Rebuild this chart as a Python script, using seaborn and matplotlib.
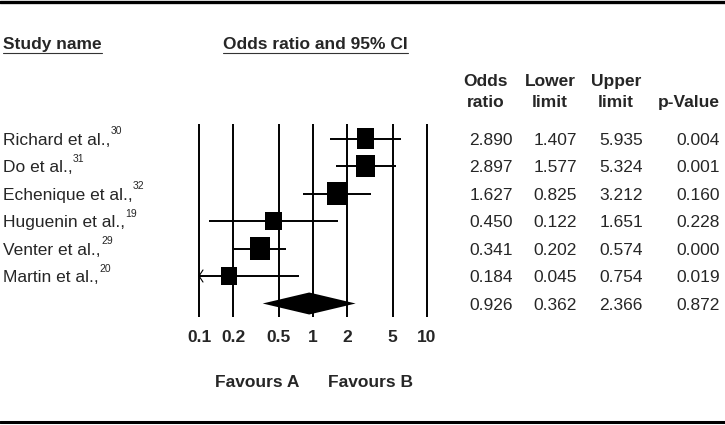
import numpy as np
import pandas as pd
import seaborn as sns
import matplotlib.pyplot as plt
from matplotlib.markers import MarkerStyle
from matplotlib.path import Path
from matplotlib.ticker import FixedLocator, NullLocator

# data
studies = ['Richard et al.,', 'Do et al.,', 'Echenique et al.,',
           'Huguenin et al.,', 'Venter et al.,', 'Martin et al.,']
refs = ['30', '31', '32', '19', '29', '20']
odds_ratio = [2.890, 2.897, 1.627, 0.450, 0.341, 0.184]
lower = [1.407, 1.577, 0.825, 0.122, 0.202, 0.045]
upper = [5.935, 5.324, 3.212, 1.651, 0.574, 0.754]
p_value = [0.004, 0.001, 0.160, 0.228, 0.000, 0.019]
weights = [20, 22, 22, 19, 23, 19]  # relative study weight (square size)

pooled = {'or': 0.926, 'lower': 0.362, 'upper': 2.366, 'p': 0.872}

ticks = [0.1, 0.2, 0.5, 1, 2, 5, 10]
tick_labels = ['0.1', '0.2', '0.5', '1', '2', '5', '10']
favours = ['Favours A', 'Favours B']

# layout in pixels
W, H = 725, 425
ROW0, ROW_H = 138.5, 27.5
PL, PR, PT, PB = 199, 427, 124, 317
FS = 12.5


def base(y, fs=FS):
    # baseline that puts the cap-height middle at y
    return y + 0.358 * fs * 100 / 72


sns.set_theme(style='white')
plt.rcParams['font.family'] = ['Liberation Sans', 'DejaVu Sans']

fig = plt.figure(figsize=(W / 100, H / 100), dpi=100)
bg = fig.add_axes([0, 0, 1, 1])
bg.set_xlim(0, W)
bg.set_ylim(H, 0)
bg.axis('off')

ax = fig.add_axes([PL / W, 1 - PB / H, (PR - PL) / W, (PB - PT) / H])
ax.patch.set_alpha(0)
ax.set_xscale('log')
ax.set_xlim(0.1, 10)
ax.set_ylim((PB - ROW0) / ROW_H, (PT - ROW0) / ROW_H)
for s in ax.spines.values():
    s.set_visible(False)

rows = np.arange(len(studies))
y0, y1 = ax.get_ylim()
ax.vlines(ticks, y1, y0, colors='black', lw=1.4, clip_on=False, zorder=1)

lo_clip = np.maximum(lower, ticks[0])
ax.hlines(rows, lo_clip, upper, colors='black', lw=1.4, zorder=2)
for r, lo in zip(rows, lower):
    if lo < ticks[0]:
        k = 10 ** (4 / 114)
        ax.plot([ticks[0] * k, ticks[0], ticks[0] * k], [r - 0.22, r, r + 0.22],
                color='black', lw=0.8, clip_on=False, zorder=2)

square = MarkerStyle(Path([(-1, -1.15), (1, -1.15), (1, 1.15), (-1, 1.15), (-1, -1.15)],
                          closed=True))
df = pd.DataFrame({'or': odds_ratio, 'row': rows, 'w': weights})
sns.scatterplot(data=df, x='or', y='row', size='w', sizes=(187, 280), size_norm=(19, 23),
                marker=square, color='black', edgecolor='none', linewidth=0,
                legend=False, ax=ax, zorder=3)

pr = len(studies)
ax.fill([pooled['lower'], pooled['or'], pooled['upper'], pooled['or']],
        [pr, pr - 0.4, pr, pr + 0.4], color='black', lw=0, zorder=3)

ax.xaxis.set_major_locator(FixedLocator(ticks))
ax.xaxis.set_minor_locator(NullLocator())
ax.set_xticklabels(tick_labels, fontweight='bold', fontsize=FS)
ax.tick_params(axis='x', length=0, pad=9.5)
ax.set_yticks([])
ax.set_xlabel('')
ax.set_ylabel('')

# rules
bg.axhline(2, color='black', lw=2.4)
bg.axhline(422, color='black', lw=2.2)

# headers
h1 = bg.text(3, base(43), 'Study name', fontsize=FS, fontweight='bold', va='baseline')
h2 = bg.text(223, base(43), 'Odds ratio and 95% CI', fontsize=FS, fontweight='bold', va='baseline')
cols = [('Odds', 'ratio', 486), ('Lower', 'limit', 550), ('Upper', 'limit', 616)]
for a, b, x in cols:
    bg.text(x, base(80), a, fontsize=FS, fontweight='bold', ha='center', va='baseline')
    bg.text(x, base(101), b, fontsize=FS, fontweight='bold', ha='center', va='baseline')
bg.text(720, base(101), 'p-Value', fontsize=FS, fontweight='bold', ha='right', va='baseline')

# table
right = [513, 577, 643, 720]
name_txt = []
for i in range(len(studies)):
    y = ROW0 + ROW_H * i
    name_txt.append(bg.text(3, base(y), studies[i], fontsize=FS, va='baseline'))
    for x, v in zip(right, [odds_ratio[i], lower[i], upper[i], p_value[i]]):
        bg.text(x, base(y), f'{v:.3f}', fontsize=FS, ha='right', va='baseline')
y = ROW0 + ROW_H * len(studies)
for x, v in zip(right, [pooled['or'], pooled['lower'], pooled['upper'], pooled['p']]):
    bg.text(x, base(y), f'{v:.3f}', fontsize=FS, ha='right', va='baseline')

for x, lab in zip([257, 371], favours):
    bg.text(x, base(381), lab, fontsize=FS, fontweight='bold', ha='center', va='baseline')

# underlines and superscripts need text extents
fig.canvas.draw()
rend = fig.canvas.get_renderer()
for t in (h1, h2):
    bb = t.get_window_extent(rend)
    bg.plot([bb.x0, bb.x1], [53, 53], color='#333333', lw=0.8)
for i, t in enumerate(name_txt):
    bb = t.get_window_extent(rend)
    y = ROW0 + ROW_H * i
    bg.text(bb.x1 + 0.5, y - 4.5, refs[i], fontsize=7.5, va='baseline')

fig.savefig('out.png', dpi=100)
